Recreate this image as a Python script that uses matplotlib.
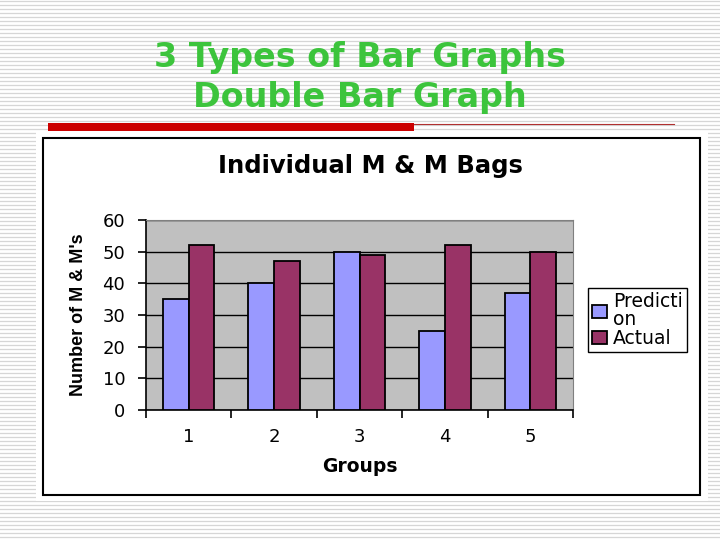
import matplotlib
matplotlib.use("Agg")
import matplotlib.pyplot as plt
from matplotlib.patches import Rectangle
import numpy as np

groups = ["1", "2", "3", "4", "5"]
prediction = [35, 40, 50, 25, 37]
actual = [52, 47, 49, 52, 50]
yticks = [0, 10, 20, 30, 40, 50, 60]

W, H = 720, 540
fig = plt.figure(figsize=(7.2, 5.4), dpi=100)

def fx(px):
    return px / W

def fy(py):
    return 1 - py / H

# slide background with thin stripes
bg = fig.add_axes([0, 0, 1, 1])
bg.set_xlim(0, W)
bg.set_ylim(H, 0)
bg.axis("off")
for yy in np.arange(1, H, 4):
    bg.axhline(yy, color="#d6d6d6", lw=0.9, zorder=0)
bg.add_patch(Rectangle((36, 131), 672, 370, facecolor="white", edgecolor="none", zorder=1))

# red rule under the title
bg.add_patch(Rectangle((48, 123), 366, 8, facecolor="#cc0000", edgecolor="none", zorder=2))
bg.plot([414, 674], [124, 124], color="#b03030", lw=0.8, zorder=2)

# chart frame
bg.add_patch(Rectangle((43, 138), 657, 357, facecolor="white", edgecolor="black", lw=1.5, zorder=2))

fig.text(0.5, fy(57), "3 Types of Bar Graphs", ha="center", va="center",
         fontsize=24, fontweight="bold", color="#3cc43c", family="DejaVu Sans")
fig.text(0.5, fy(97), "Double Bar Graph", ha="center", va="center",
         fontsize=24, fontweight="bold", color="#3cc43c", family="DejaVu Sans")

ax = fig.add_axes([fx(146), fy(410), fx(573 - 146), (410 - 220) / H])
ax.set_facecolor("#c0c0c0")
x = np.arange(len(groups))
w = 0.3
ax.bar(x - w / 2, prediction, w, color="#9999ff", edgecolor="black", lw=1.3,
       label="Predicti\non", zorder=3)
ax.bar(x + w / 2, actual, w, color="#993366", edgecolor="black", lw=1.3,
       label="Actual", zorder=3)

ax.set_xlim(-0.5, len(groups) - 0.5)
ax.set_ylim(0, 60)
ax.set_yticks(yticks)
ax.set_yticklabels([str(v) for v in yticks], fontsize=13, family="DejaVu Sans")
ax.yaxis.grid(True, color="black", lw=1)
ax.set_axisbelow(True)
ax.set_xticks(x)
ax.set_xticklabels(groups, fontsize=13, family="DejaVu Sans")
ax.set_xticks(np.arange(-0.5, len(groups)), minor=True)
ax.tick_params(axis="x", which="major", length=0, pad=13)
ax.tick_params(axis="x", which="minor", length=6, width=1.2, direction="out")
ax.tick_params(axis="y", length=6, width=1.2, direction="out", pad=9)
for s in ["top", "right"]:
    ax.spines[s].set_color("#808080")
for s in ["left", "bottom"]:
    ax.spines[s].set_color("black")
    ax.spines[s].set_linewidth(1.2)

ax.set_xlabel("Groups", fontsize=13.5, fontweight="bold", family="DejaVu Sans", labelpad=8)
ax.set_ylabel("Number of M & M's", fontsize=13, fontweight="bold", family="Liberation Sans", labelpad=11)

fig.text(fx(370), fy(166), "Individual M & M Bags", ha="center", va="center",
         fontsize=17.5, fontweight="bold", family="DejaVu Sans")

leg = ax.legend(loc="upper left", bbox_to_anchor=(fx(588), fy(288)),
                bbox_transform=fig.transFigure, fancybox=False, framealpha=1,
                edgecolor="black", prop={"family": "DejaVu Sans", "size": 13.5},
                handlelength=0.8, handleheight=0.7, handletextpad=0.35,
                borderpad=0.2, labelspacing=0.0, borderaxespad=0)
leg.get_frame().set_linewidth(1.0)
for t in leg.get_texts():
    t.set_linespacing(0.95)

fig.savefig("out.png", dpi=100)
